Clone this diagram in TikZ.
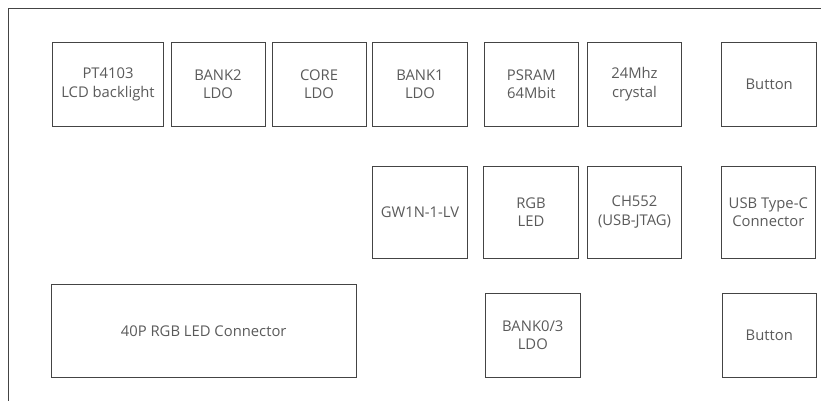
\documentclass[tikz,border=0pt]{standalone}
\usepackage{fontspec}
\setmainfont{Open Sans}
\definecolor{edge}{HTML}{444444}
\definecolor{txt}{HTML}{5A5A5A}
\tikzset{
  box/.style={draw=edge, line width=0.9pt, rectangle, inner sep=0pt, align=center,
    text=txt, font=\fontsize{14.8}{18.5}\selectfont, minimum width=94pt},
  r1/.style={minimum height=83.3pt},
  r2/.style={minimum height=92.3pt},
  r3/.style={minimum height=83.7pt},
  frame/.style={draw=edge, line width=1pt}
}
\begin{document}
\begin{tikzpicture}[x=1pt,y=-1pt]
\useasboundingbox (0,0) rectangle (821,400);
\draw[frame] (8,401) -- (8,8) -- (822,8);
% row 1
\node[box,r1,minimum width=110.6pt] (pt) at (108,84.3) {PT4103\\LCD backlight};
\node[box,r1] (bank2) at (218,84.3) {BANK2\\LDO};
\node[box,r1] (core) at (319,84.3) {CORE\\LDO};
\node[box,r1,minimum width=94.6pt] (bank1) at (420,84.3) {BANK1\\LDO};
\node[box,r1] (psram) at (531.3,84.3) {PSRAM\\64Mbit};
\node[box,r1,minimum width=94.4pt] (xtal) at (634.5,84.3) {24Mhz\\crystal};
\node[box,r1,minimum width=95pt] (btn1) at (769.2,84.3) {Button};
% row 2
\node[box,r2,minimum width=94.6pt] (fpga) at (420,212.2) {GW1N-1-LV};
\node[box,r2,minimum width=94.6pt] (rgb) at (531,212.2) {RGB\\LED};
\node[box,r2,minimum width=94.4pt] (ch552) at (634.5,212.2) {CH552\\(USB-JTAG)};
\node[box,r2,minimum width=94.7pt] (usb) at (768.3,212.2) {USB Type-C\\Connector};
% row 3
\node[box,minimum width=304.7pt,minimum height=92.7pt] (conn) at (203.7,330.7) {40P RGB LED Connector};
\node[box,r3,minimum width=94.3pt] (bank03) at (532.8,335.2) {BANK0/3\\LDO};
\node[box,r3,minimum width=94.7pt] (btn2) at (769.3,335.2) {Button};
\end{tikzpicture}
\end{document}
